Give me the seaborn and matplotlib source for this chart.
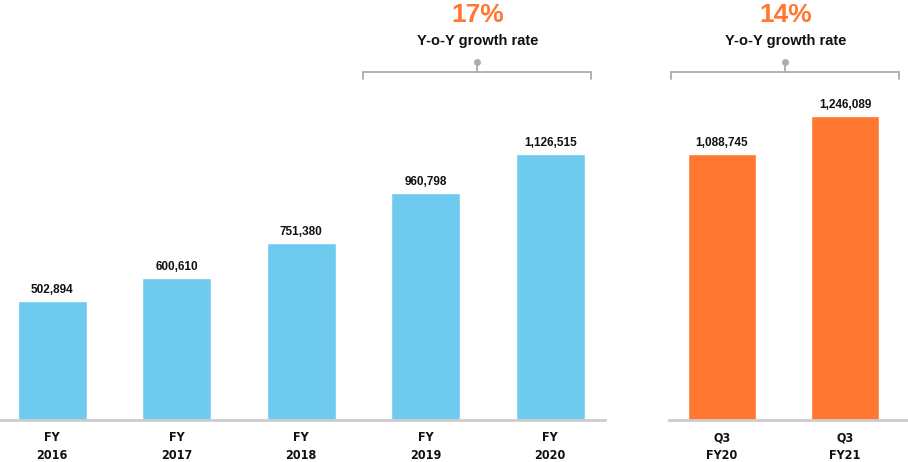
import matplotlib
matplotlib.use("Agg")
import matplotlib.pyplot as plt
import matplotlib.transforms as mtransforms
import seaborn as sns
import pandas as pd

# Data
fy_labels = ["FY\n2016", "FY\n2017", "FY\n2018", "FY\n2019", "FY\n2020"]
fy_values = [502894, 600610, 751380, 960798, 1126515]
q_labels = ["Q3\nFY20", "Q3\nFY21"]
q_values = [1088745, 1246089]
growth_fy = "17%"
growth_q = "14%"

BLUE = "#6FCAF0"
ORANGE = "#FF7730"
GREY = "#A9AEB4"

sns.set_theme(style="white")
plt.rcParams["font.family"] = ["Liberation Sans", "DejaVu Sans"]

fig = plt.figure(figsize=(9.08, 4.62), dpi=100)
W, H = 908, 462
ax1 = fig.add_axes([0 / W, 42 / H, 605 / W, 420 / H])
ax2 = fig.add_axes([669 / W, 42 / H, 239 / W, 420 / H])


def draw(ax, labels, values, color, ymax, xlim):
    df = pd.DataFrame({"cat": labels, "val": values})
    sns.barplot(data=df, x="cat", y="val", color=color, width=0.555,
                saturation=1, ax=ax)
    ax.set_ylim(0, ymax)
    ax.set_xlim(*xlim)
    for i, v in enumerate(values):
        ax.text(i, v + ymax * 0.012, f"{v:,}", ha="center", va="bottom",
                fontsize=8.5, fontweight="bold", color="#111111")
    for s in ["top", "right", "left"]:
        ax.spines[s].set_visible(False)
    ax.spines["bottom"].set_color("#CCCCCC")
    ax.spines["bottom"].set_linewidth(2)
    ax.set_yticks([])
    ax.set_xlabel("")
    ax.set_ylabel("")
    ax.tick_params(axis="x", length=0, pad=8)
    for t in ax.get_xticklabels():
        t.set_family(["DejaVu Sans"])
        t.set_stretch("condensed")
        t.set_fontsize(9)
        t.set_fontweight("bold")
        t.set_color("#111111")
        t.set_linespacing(1.5)
    ax.set_facecolor("none")


draw(ax1, fy_labels, fy_values, BLUE, 1.78e6, (-0.42, 4.44))
draw(ax2, q_labels, q_values, ORANGE, 1.72e6, (-0.43, 1.51))


def bracket(ax, x0, x1, pct):
    tr = mtransforms.blended_transform_factory(ax.transData, ax.transAxes)
    yb, yt, yd = 0.829, 0.812, 0.853
    xm = (x0 + x1) / 2
    ax.plot([x0, x0, x1, x1], [yt, yb, yb, yt], color=GREY, lw=1.3,
            transform=tr, clip_on=False, solid_joinstyle="miter")
    ax.plot([xm, xm], [yb, yd], color=GREY, lw=1.3, transform=tr, clip_on=False)
    ax.plot([xm], [yd], "o", color=GREY, ms=4, transform=tr, clip_on=False)
    ax.text(xm, 0.902, "Y-o-Y growth rate", ha="center", va="center",
            fontsize=10.5, fontweight="bold", color="#111111", transform=tr)
    ax.text(xm, 0.964, pct, ha="center", va="center", fontsize=19,
            fontweight="bold", color=ORANGE, transform=tr)


bracket(ax1, 2.5, 4.33, growth_fy)
bracket(ax2, -0.41, 1.44, growth_q)

fig.savefig("out.png", dpi=100, facecolor="white")
